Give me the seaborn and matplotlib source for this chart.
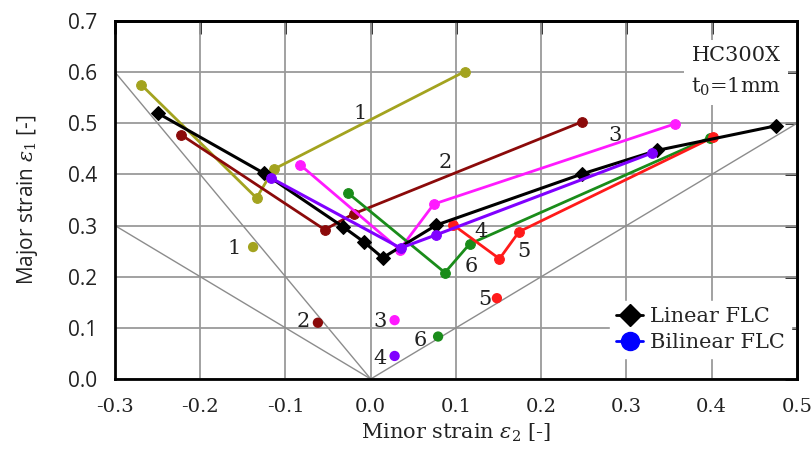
import matplotlib
matplotlib.use("Agg")
import matplotlib.pyplot as plt
import seaborn as sns
import pandas as pd
from matplotlib.lines import Line2D

# ---- data ----
linear_x = [-0.250, -0.125, -0.032, -0.008, 0.014, 0.077, 0.248, 0.336, 0.475]
linear_y = [0.520, 0.402, 0.297, 0.268, 0.237, 0.301, 0.401, 0.447, 0.495]
bilinear_x = [-0.117, 0.035, 0.077, 0.330]
bilinear_y = [0.393, 0.256, 0.282, 0.442]

s1_x = [-0.269, -0.134, -0.114, 0.110]
s1_y = [0.575, 0.354, 0.410, 0.601]
s2_x = [-0.222, -0.054, -0.020, 0.248]
s2_y = [0.477, 0.292, 0.323, 0.503]
s3_x = [-0.083, 0.034, 0.074, 0.357]
s3_y = [0.419, 0.253, 0.342, 0.499]
s5_x = [0.097, 0.151, 0.174, 0.402]
s5_y = [0.301, 0.235, 0.288, 0.473]
s6_x = [-0.027, 0.087, 0.116, 0.398]
s6_y = [0.364, 0.208, 0.264, 0.472]

single_ids = ["1", "2", "3", "4", "5", "6"]
single_x = [-0.138, -0.062, 0.028, 0.028, 0.148, 0.079]
single_y = [0.258, 0.110, 0.115, 0.045, 0.158, 0.083]

# label positions for curve numbers
curve_labels = ["1", "2", "3", "4", "5", "6"]
curve_lab_x = [-0.013, 0.087, 0.287, 0.129, 0.180, 0.118]
curve_lab_y = [0.520, 0.423, 0.477, 0.288, 0.249, 0.219]
single_lab_x = [-0.160, -0.079, 0.011, 0.011, 0.134, 0.058]
single_lab_y = [0.256, 0.112, 0.112, 0.041, 0.155, 0.076]

xticks = [-0.3, -0.2, -0.1, 0.0, 0.1, 0.2, 0.3, 0.4, 0.5]
yticks = [0.0, 0.1, 0.2, 0.3, 0.4, 0.5, 0.6, 0.7]

colors = {"1": "#a3a31f", "2": "#8b0a0a", "3": "#ff1aff", "4": "#8000ff",
          "5": "#ff1a1a", "6": "#1a8c1a"}

sns.set_theme(style="white")
plt.rcParams["font.family"] = ["DejaVu Serif"]
plt.rcParams["mathtext.fontset"] = "dejavuserif"

fig = plt.figure(figsize=(8.11, 4.62), dpi=100)
ax = fig.add_axes([0.1418, 0.1797, 0.8409, 0.7748])

# reference lines
ax.plot([0, -0.3], [0, 0.6], color="#8c8c8c", lw=1.0, zorder=1)
ax.plot([0, -0.3], [0, 0.3], color="#8c8c8c", lw=1.0, zorder=1)
ax.plot([0, 0.5], [0, 0.5], color="#8c8c8c", lw=1.0, zorder=1)

series = [("1", s1_x, s1_y), ("2", s2_x, s2_y), ("3", s3_x, s3_y),
          ("6", s6_x, s6_y), ("5", s5_x, s5_y)]
for sid, xs, ys in series:
    df = pd.DataFrame({"x": xs, "y": ys})
    sns.lineplot(data=df, x="x", y="y", sort=False, color=colors[sid], lw=2,
                 marker="o", markersize=7, markeredgecolor=colors[sid], ax=ax, zorder=3)

df_lin = pd.DataFrame({"x": linear_x, "y": linear_y})
sns.lineplot(data=df_lin, x="x", y="y", sort=False, color="black", lw=2.2,
             marker="D", markersize=7, markeredgecolor="black", ax=ax, zorder=4)
df_bil = pd.DataFrame({"x": bilinear_x, "y": bilinear_y})
sns.lineplot(data=df_bil, x="x", y="y", sort=False, color=colors["4"], lw=2.2,
             marker="o", markersize=7, markeredgecolor=colors["4"], ax=ax, zorder=4)

df_single = pd.DataFrame({"id": single_ids, "x": single_x, "y": single_y})
sns.scatterplot(data=df_single, x="x", y="y", hue="id", palette=colors, s=55,
                edgecolor="none", legend=False, ax=ax, zorder=5)

for t, x, y in zip(curve_labels, curve_lab_x, curve_lab_y):
    ax.text(x, y, t, fontsize=15, ha="center", va="center", zorder=6, color="#222222")
for t, x, y in zip(single_ids, single_lab_x, single_lab_y):
    ax.text(x, y, t, fontsize=15, ha="center", va="center", zorder=6, color="#222222")

ax.text(0.429, 0.60, "HC300X\nt$_0$=1mm", fontsize=15, ha="center", va="center",
        linespacing=1.65, zorder=6, color="#222222",
        bbox=dict(facecolor="white", edgecolor="none", pad=5))

ax.set_xlim(-0.3, 0.5)
ax.set_ylim(0.0, 0.7)
ax.set_xticks(xticks)
ax.set_yticks(yticks)
ax.set_xticklabels([f"{v:.1f}" for v in xticks], fontsize=14)
ax.set_yticklabels([f"{v:.1f}" for v in yticks], fontsize=15, fontfamily="Open Sans")
ax.grid(True, color="#9a9a9a", lw=1.3)
ax.set_axisbelow(True)

for sp in ax.spines.values():
    sp.set_visible(True)
    sp.set_color("black")
    sp.set_linewidth(2)
ax.tick_params(axis="both", which="major", direction="inout", length=14, width=2,
               colors="black", labelcolor="#222222")
ax.tick_params(axis="x", pad=7)
ax.tick_params(axis="y", pad=6)

# inward ticks on the top and right frame
sec_x = ax.secondary_xaxis("top")
sec_x.set_xticks(xticks)
sec_x.tick_params(direction="in", length=9, width=2, labeltop=False)
sec_y = ax.secondary_yaxis("right")
sec_y.set_yticks(yticks)
sec_y.tick_params(direction="in", length=9, width=2, labelright=False)
for s in (sec_x, sec_y):
    for sp in s.spines.values():
        sp.set_linewidth(2)
        sp.set_color("black")

ax.set_xlabel(r"Minor strain $\varepsilon_2$ [-]", fontsize=15, labelpad=4, color="#222222")
ax.set_ylabel(r"Major strain $\varepsilon_1$ [-]", fontsize=15, fontfamily="Open Sans",
              labelpad=20, color="#222222")

handles = [Line2D([], [], color="black", lw=2, marker="D", markersize=11),
           Line2D([], [], color="blue", lw=2, marker="o", markersize=13)]
leg = ax.legend(handles, ["Linear FLC", "Bilinear FLC"], loc="lower right",
                bbox_to_anchor=(1.0, 0.04), fontsize=15, frameon=True,
                handlelength=1.3, handletextpad=0.3, borderpad=0.3, labelspacing=0.35,
                borderaxespad=0.3)
leg.get_frame().set_edgecolor("white")
leg.get_frame().set_facecolor("white")
leg.get_frame().set_alpha(1.0)
leg.set_zorder(7)

fig.savefig("out.png", dpi=100)
